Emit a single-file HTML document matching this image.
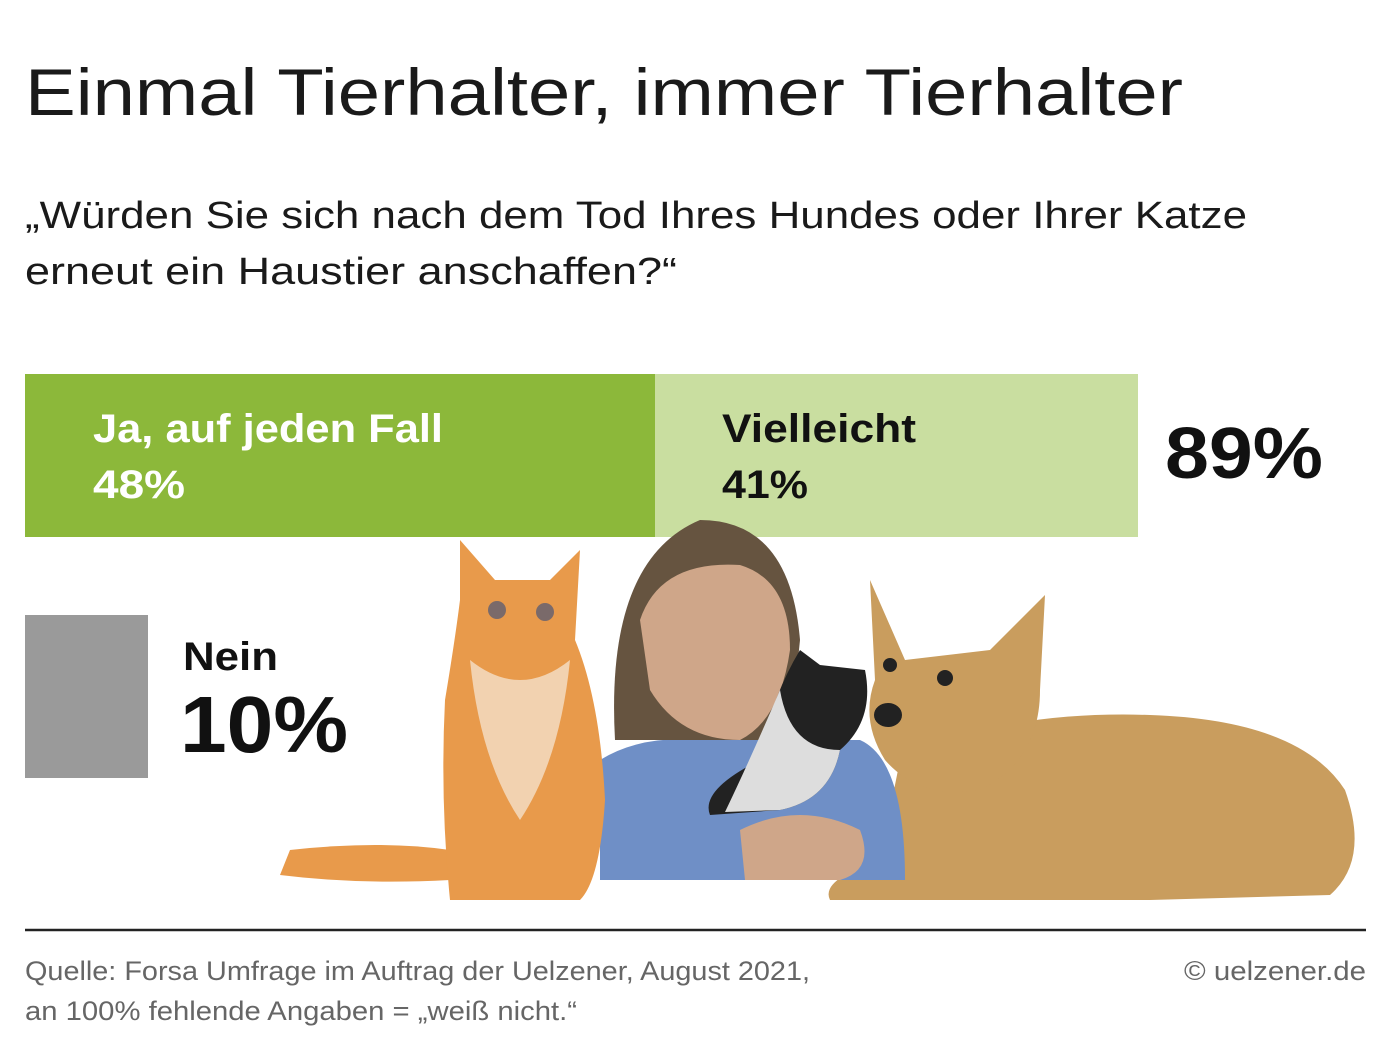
<!DOCTYPE html>
<html><head><meta charset="utf-8"><style>
html,body{margin:0;padding:0;background:#fff;}
svg{display:block}
text{font-family:"Liberation Sans",sans-serif;}
</style></head><body>
<svg width="1398" height="1050" viewBox="0 0 1398 1050" xmlns="http://www.w3.org/2000/svg">
<rect width="1398" height="1050" fill="#fff"/>
<text x="25" y="115" font-size="66" fill="#1a1a1a" textLength="1158" lengthAdjust="spacingAndGlyphs">Einmal Tierhalter, immer Tierhalter</text>
<text x="25" y="228" font-size="38" fill="#1a1a1a" textLength="1222" lengthAdjust="spacingAndGlyphs">„Würden Sie sich nach dem Tod Ihres Hundes oder Ihrer Katze</text>
<text x="25" y="284" font-size="38" fill="#1a1a1a" textLength="652" lengthAdjust="spacingAndGlyphs">erneut ein Haustier anschaffen?“</text>
<rect x="25" y="374" width="630" height="163" fill="#8cb83a"/>
<rect x="655" y="374" width="483" height="163" fill="#c9dea0"/>
<text x="93" y="442" font-size="40" font-weight="bold" fill="#fff" textLength="350" lengthAdjust="spacingAndGlyphs">Ja, auf jeden Fall</text>
<text x="93" y="498" font-size="40" font-weight="bold" fill="#fff" textLength="92" lengthAdjust="spacingAndGlyphs">48%</text>
<text x="722" y="442" font-size="40" font-weight="bold" fill="#111" textLength="194" lengthAdjust="spacingAndGlyphs">Vielleicht</text>
<text x="722" y="498" font-size="40" font-weight="bold" fill="#111" textLength="86" lengthAdjust="spacingAndGlyphs">41%</text>
<text x="1165" y="478" font-size="72" font-weight="bold" fill="#111" textLength="158" lengthAdjust="spacingAndGlyphs">89%</text>
<rect x="25" y="615" width="123" height="163" fill="#9a9a9a"/>
<text x="183" y="670" font-size="40" font-weight="bold" fill="#111" textLength="95" lengthAdjust="spacingAndGlyphs">Nein</text>
<text x="180" y="752" font-size="80" font-weight="bold" fill="#111" textLength="168" lengthAdjust="spacingAndGlyphs">10%</text>
<!-- dog -->
<path d="M900 760 Q1000 710 1150 715 Q1300 720 1345 790 Q1370 860 1330 895 L1150 900 L830 900 Q820 880 880 860 Z" fill="#c99d5e"/>
<path d="M870 580 L905 660 L990 650 L1045 595 L1040 690 Q1040 760 980 790 Q920 800 885 760 Q860 720 875 680 Z" fill="#c99d5e"/>
<ellipse cx="888" cy="715" rx="14" ry="12" fill="#222"/>
<circle cx="890" cy="665" r="7" fill="#222"/><circle cx="945" cy="678" r="8" fill="#222"/>
<!-- girl -->
<path d="M600 880 L600 760 Q640 735 700 740 L860 740 Q905 760 905 880 Z" fill="#6f8fc6"/>
<path d="M615 740 Q605 560 700 520 Q790 520 800 640 L790 740 Z" fill="#665440"/>
<path d="M640 620 Q660 560 740 565 Q790 580 790 650 Q780 720 740 740 Q680 740 650 690 Z" fill="#cfa689"/>
<path d="M740 830 Q800 800 860 830 Q875 870 840 880 L745 880 Z" fill="#cfa689"/>
<!-- kitten -->
<path d="M800 650 L820 665 L865 670 Q875 720 840 750 Q830 800 780 810 L710 815 Q700 790 760 760 Q770 700 800 650 Z" fill="#222"/>
<path d="M780 690 Q790 750 840 750 Q830 800 780 810 L725 812 Q750 760 780 690 Z" fill="#ddd"/>
<!-- cat -->
<path d="M290 850 Q380 840 450 850 L450 880 Q360 885 280 875 Z" fill="#e89a4b"/>
<path d="M460 540 L495 580 L550 580 L580 550 L575 640 Q600 700 605 800 Q600 880 580 900 L450 900 Q440 800 445 700 Q455 640 460 600 Z" fill="#e89a4b"/>
<path d="M470 660 Q520 700 570 660 Q560 760 520 820 Q480 760 470 660 Z" fill="#f2d2b0"/>
<circle cx="497" cy="610" r="9" fill="#7a6a6a"/><circle cx="545" cy="612" r="9" fill="#7a6a6a"/>
<line x1="25" y1="930" x2="1366" y2="930" stroke="#222" stroke-width="2.5"/>
<text x="25" y="980" font-size="27" fill="#666" textLength="785" lengthAdjust="spacingAndGlyphs">Quelle: Forsa Umfrage im Auftrag der Uelzener, August 2021,</text>
<text x="25" y="1020" font-size="27" fill="#666" textLength="552" lengthAdjust="spacingAndGlyphs">an 100% fehlende Angaben = „weiß nicht.“</text>
<text x="1366" y="980" font-size="27" fill="#666" text-anchor="end" textLength="182" lengthAdjust="spacingAndGlyphs">© uelzener.de</text>
</svg>
</body></html>
